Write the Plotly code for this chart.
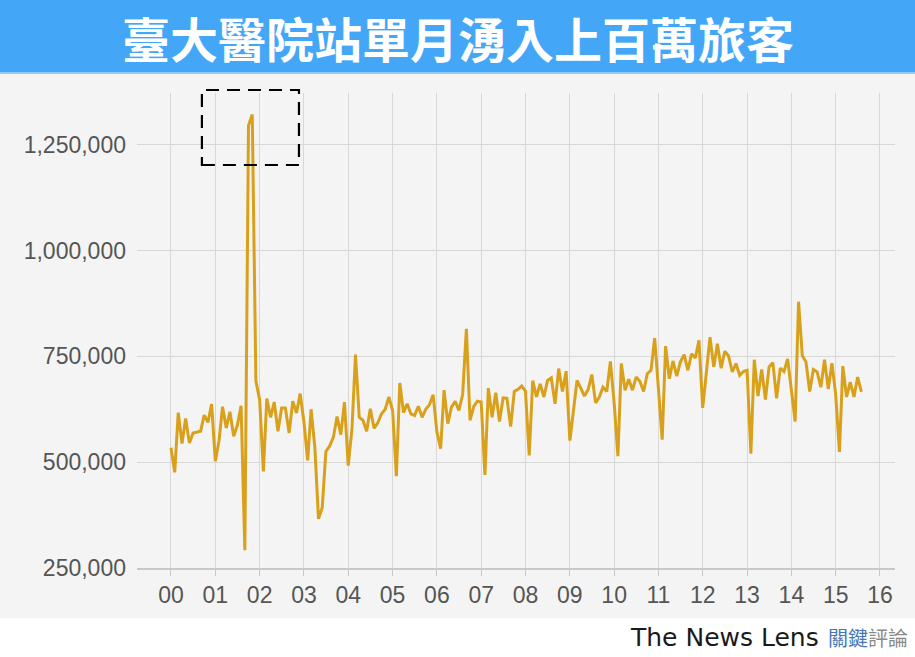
"""Monthly riders at NTU Hospital MRT station, 2000-2015 (line chart)."""

import plotly.graph_objects as go

# monthly riders, one list per year (Jan..Dec)
riders_2000 = [534000, 476000, 617000, 544000, 603000, 545000, 569000, 571000, 573000, 611000, 594000, 637000]
riders_2001 = [502000, 552000, 631000, 581000, 619000, 561000, 587000, 633000, 292000, 1295000, 1321000, 692000]
riders_2002 = [647000, 478000, 650000, 606000, 642000, 573000, 628000, 628000, 569000, 644000, 616000, 662000]
riders_2003 = [595000, 504000, 625000, 535000, 366000, 393000, 525000, 538000, 559000, 608000, 565000, 642000]
riders_2004 = [492000, 579000, 754000, 606000, 599000, 573000, 626000, 580000, 593000, 614000, 625000, 654000]
riders_2005 = [622000, 467000, 687000, 617000, 638000, 614000, 610000, 632000, 606000, 625000, 636000, 659000]
riders_2006 = [571000, 532000, 670000, 591000, 630000, 644000, 622000, 659000, 815000, 599000, 632000, 644000]
riders_2007 = [642000, 470000, 675000, 606000, 664000, 596000, 652000, 651000, 584000, 667000, 672000, 680000]
riders_2008 = [668000, 516000, 693000, 654000, 685000, 654000, 693000, 699000, 638000, 721000, 667000, 715000]
riders_2009 = [551000, 625000, 693000, 675000, 656000, 672000, 707000, 640000, 654000, 677000, 667000, 738000]
riders_2010 = [640000, 514000, 733000, 670000, 696000, 670000, 701000, 691000, 667000, 709000, 717000, 793000]
riders_2011 = [680000, 553000, 774000, 697000, 739000, 703000, 737000, 754000, 717000, 756000, 746000, 788000]
riders_2012 = [628000, 710000, 795000, 725000, 780000, 722000, 762000, 751000, 713000, 733000, 705000, 714000]
riders_2013 = [717000, 520000, 742000, 656000, 719000, 648000, 725000, 735000, 651000, 722000, 714000, 744000]
riders_2014 = [670000, 596000, 879000, 751000, 737000, 667000, 719000, 713000, 677000, 742000, 673000, 734000]
riders_2015 = [660000, 524000, 727000, 654000, 689000, 654000, 701000, 666000]

years = [2000 + k for k in range(17)]
year_labels = [f"{y % 100:02d}" for y in years]

yearly = [
    riders_2000, riders_2001, riders_2002, riders_2003, riders_2004, riders_2005,
    riders_2006, riders_2007, riders_2008, riders_2009, riders_2010, riders_2011,
    riders_2012, riders_2013, riders_2014, riders_2015,
]

months = []
riders = []
for k, vals in enumerate(yearly):
    for m, v in enumerate(vals):
        months.append(f"{years[k]}-{m + 1:02d}-01")
        riders.append(v)

# page geometry (pixels)
W, H = 915, 657
L, R, T, B = 137, 20, 93, 89
PW, PH = W - L - R, H - T - B


def px_x(px):
    return (px - L) / PW


def px_y(py):
    return (H - B - py) / PH


BG = "#f4f4f4"
LINE = "#d9a11b"
GRID = "#d8d8d8"
TICKFONT = dict(family="Liberation Sans, Arial, sans-serif", size=23, color="#555555")

fig = go.Figure()
fig.add_trace(
    go.Scatter(
        x=months,
        y=riders,
        mode="lines",
        line=dict(color=LINE, width=3),
        hovertemplate="%{x|%Y-%m}: %{y:,}<extra></extra>",
    )
)

fig.update_layout(
    width=W,
    height=H,
    margin=dict(l=L, r=R, t=T, b=B),
    paper_bgcolor=BG,
    plot_bgcolor=BG,
    showlegend=False,
    xaxis=dict(
        type="date",
        range=["1999-03-27", "2016-05-04"],
        tickvals=[f"{y}-01-01" for y in years],
        ticktext=year_labels,
        showgrid=True,
        gridcolor=GRID,
        gridwidth=1,
        showline=True,
        linecolor="#c8c8c8",
        linewidth=1.5,
        ticks="outside",
        ticklen=6,
        tickcolor="#c8c8c8",
        tickfont=TICKFONT,
        zeroline=False,
    ),
    yaxis=dict(
        range=[250000, 1372000],
        tickvals=[250000, 500000, 750000, 1000000, 1250000],
        tickformat=",d",
        showgrid=True,
        gridcolor=GRID,
        gridwidth=1,
        ticks="",
        ticklabelstandoff=10,
        tickfont=TICKFONT,
        zeroline=False,
    ),
    shapes=[
        # title banner
        dict(type="rect", xref="paper", yref="paper", x0=-1, x1=2,
             y0=px_y(72), y1=2, fillcolor="#44a6f6", line_width=0, layer="above"),
        dict(type="rect", xref="paper", yref="paper", x0=-1, x1=2,
             y0=px_y(74), y1=px_y(72), fillcolor="#8fcaf8", line_width=0, layer="above"),
        # white footer strip
        dict(type="rect", xref="paper", yref="paper", x0=-1, x1=2,
             y0=-2, y1=px_y(618), fillcolor="white", line_width=0, layer="above"),
        # dashed box around the 2001 spike
        dict(type="rect", xref="x", yref="paper", x0="2000-09-12", x1="2002-11-21",
             y0=px_y(165), y1=px_y(90),
             line=dict(color="black", width=2.2, dash="13px,8px"), fillcolor="rgba(0,0,0,0)"),
    ],
    annotations=[
        dict(text="臺大醫院站單月湧入上百萬旅客", xref="paper", yref="paper",
             x=px_x(W / 2), y=px_y(37), xanchor="center", yanchor="middle", showarrow=False,
             font=dict(family="Noto Sans CJK TC", size=48, color="white", weight="bold")),
        dict(text="The News Lens", xref="paper", yref="paper",
             x=px_x(821), y=px_y(637), xanchor="right", yanchor="middle", showarrow=False,
             font=dict(family="DejaVu Sans", size=25, color="#1a1a1a")),
        dict(text="<span style='color:#4677b4'>關鍵</span>評論", xref="paper", yref="paper",
             x=px_x(826), y=px_y(637), xanchor="left", yanchor="middle", showarrow=False,
             font=dict(family="Noto Sans CJK TC", size=20, color="#8a8a8a")),
    ],
)

fig.write_html(
    "out.html",
    config={"displayModeBar": False},
    post_script="document.body.style.margin='0';",
)
